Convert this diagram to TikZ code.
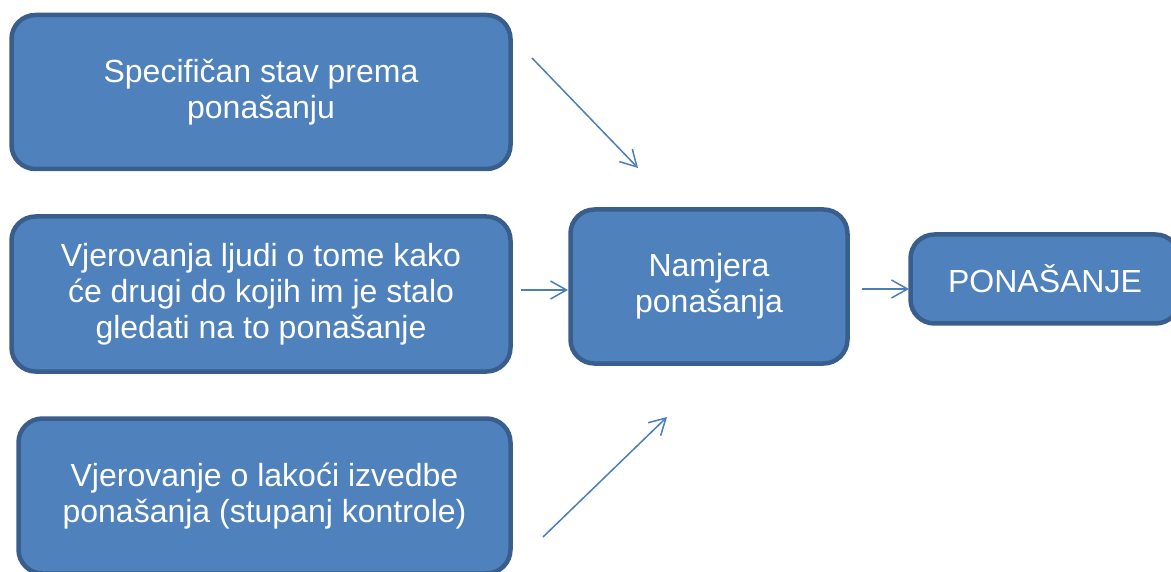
\documentclass[tikz,border=0pt]{standalone}
\usepackage{fontspec}
\setmainfont{Liberation Sans}
\usetikzlibrary{arrows.meta}
\definecolor{boxfill}{HTML}{4F81BD}
\definecolor{boxline}{HTML}{3A5E8C}
\definecolor{arrowc}{HTML}{4A7EBB}
\begin{document}
\begin{tikzpicture}[x=1pt,y=-1pt,
  box/.style={draw=boxline, line width=4.5pt, fill=boxfill, rounded corners=24pt,
    text=white, align=center, font=\fontsize{32}{36}\selectfont, inner sep=0pt},
  conn/.style={draw=arrowc, line width=1.5pt, -{Straight Barb[length=16pt,width=18pt]}}]
\useasboundingbox (0,0) rectangle (1171,572);
\node[box, minimum width=499pt, minimum height=154pt] (b1) at (261,92) {Specifičan stav prema\\ponašanju};
\node[box, minimum width=499pt, minimum height=155pt] (b2) at (261,294) {Vjerovanja ljudi o tome kako\\će drugi do kojih im je stalo\\gledati na to ponašanje};
\node[box, minimum width=492pt, minimum height=155pt] (b3) at (264.5,496) {Vjerovanje o lakoći izvedbe\\ponašanja (stupanj kontrole)};
\node[box, minimum width=277pt, minimum height=154pt] (nm) at (709,286.5) {Namjera\\ponašanja};
\node[box, minimum width=269pt, minimum height=89pt] (pn) at (1045,279) {PONAŠANJE};
\coordinate (a1s) at (532,58);
\coordinate (a1e) at (638,168);
\coordinate (a2s) at (521,290);
\coordinate (a2e) at (568,290);
\coordinate (a3s) at (543,537);
\coordinate (a3e) at (667,417);
\coordinate (a4s) at (862,289);
\coordinate (a4e) at (909,289);
\draw[conn] (a1s) -- (a1e);
\draw[conn] (a2s) -- (a2e);
\draw[conn] (a3s) -- (a3e);
\draw[conn] (a4s) -- (a4e);
\end{tikzpicture}
\end{document}
